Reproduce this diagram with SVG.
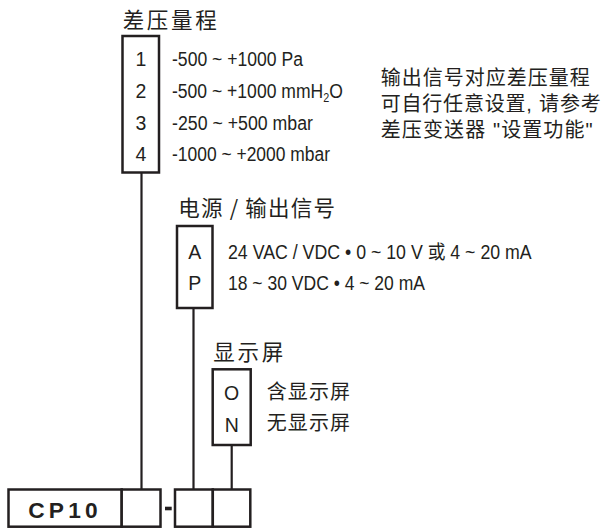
<svg xmlns="http://www.w3.org/2000/svg" width="605" height="528" viewBox="0 0 605 528">
<style>
.box{fill:#fff;stroke:#231f20;stroke-width:2.5}
.ln{fill:none;stroke:#231f20;stroke-width:2.2}
.t{font-family:"Liberation Sans","Noto Sans CJK SC",sans-serif;fill:#231f20}
.code{font-size:19.5px;text-anchor:middle}
.opt{font-size:19.5px}
.cjk{font-family:"Liberation Sans","Noto Sans CJK SC",sans-serif;font-size:20px;fill:#231f20}
.title{font-family:"Noto Sans CJK SC","Liberation Sans",sans-serif;font-size:21.5px;fill:#231f20}
</style>
<rect width="605" height="528" fill="#fff"/>
<g id="connectors">
<line class="ln" x1="141.5" y1="172.5" x2="141.5" y2="490"/>
<line class="ln" x1="193.5" y1="308" x2="193.5" y2="490"/>
<line class="ln" x1="231.7" y1="445" x2="231.7" y2="490"/>
</g>
<g id="range">
<text class="title" x="122.7" y="27.5" textLength="94">差压量程</text>
<rect class="box" x="122.5" y="36" width="36.5" height="136.5"/>
<text class="t code" x="141" y="66">1</text>
<text class="t code" x="141" y="98">2</text>
<text class="t code" x="141" y="130">3</text>
<text class="t code" x="141" y="161">4</text>
<text class="t opt" x="172" y="66" textLength="131" lengthAdjust="spacingAndGlyphs">-500 ~ +1000 Pa</text>
<text class="t opt" transform="translate(172 98) scale(0.9 1)" x="0" y="0">-500 ~ +1000 mmH<tspan font-size="12" dy="3.5">2</tspan><tspan dy="-3.5">O</tspan></text>
<text class="t opt" x="172" y="130" textLength="141" lengthAdjust="spacingAndGlyphs">-250 ~ +500 mbar</text>
<text class="t opt" x="172" y="161" textLength="158" lengthAdjust="spacingAndGlyphs">-1000 ~ +2000 mbar</text>
</g>
<g id="note">
<text class="cjk" x="380.7" y="84.5" textLength="209">输出信号对应差压量程</text>
<text class="cjk" x="380.7" y="110.5" textLength="220">可自行任意设置, 请参考</text>
<text class="cjk" x="380.7" y="137" textLength="212">差压变送器 "设置功能"</text>
</g>
<g id="power">
<text class="title" x="178.3" y="215.5" textLength="156.7">电源 / 输出信号</text>
<rect class="box" x="177" y="226" width="35.5" height="82"/>
<text class="t code" x="194.8" y="259">A</text>
<text class="t code" x="194.8" y="290">P</text>
<text class="t opt" x="228" y="259" textLength="303.7" lengthAdjust="spacingAndGlyphs">24 VAC / VDC • 0 ~ 10 V 或 4 ~ 20 mA</text>
<text class="t opt" x="228" y="290" textLength="197" lengthAdjust="spacingAndGlyphs">18 ~ 30 VDC • 4 ~ 20 mA</text>
</g>
<g id="display">
<text class="title" x="213.3" y="360" textLength="70">显示屏</text>
<rect class="box" x="212.7" y="369.3" width="38" height="75.7"/>
<text class="t code" x="231.7" y="400">O</text>
<text class="t code" x="231.7" y="431.5">N</text>
<text class="cjk" x="266.7" y="398.5" textLength="83.3">含显示屏</text>
<text class="cjk" x="266.7" y="430" textLength="83.3">无显示屏</text>
</g>
<g id="model">
<rect class="box" x="8.5" y="489.5" width="113.2" height="37.2"/>
<text class="t" x="28.3" y="518.3" font-size="22" font-weight="bold" letter-spacing="4" textLength="73.4" lengthAdjust="spacingAndGlyphs">CP10</text>
<rect class="box" x="121.7" y="489.5" width="38.8" height="37.2"/>
<rect x="165" y="506.7" width="6.7" height="3.6" fill="#231f20"/>
<rect class="box" x="175" y="489.5" width="37.8" height="37.2"/>
<rect class="box" x="212.8" y="489.5" width="37.5" height="37.2"/>
</g>
</svg>
